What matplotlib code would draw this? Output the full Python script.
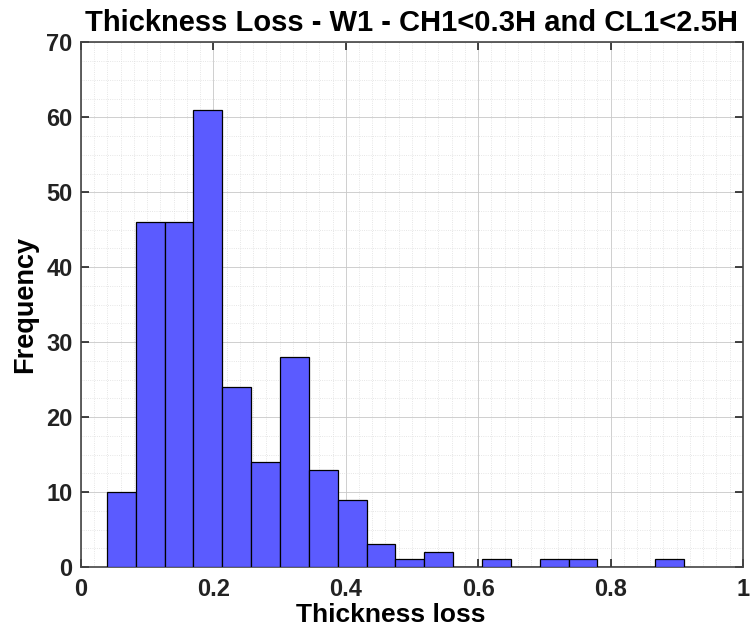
import matplotlib.pyplot as plt
import numpy as np
from matplotlib.ticker import MultipleLocator

# histogram data
bin_start = 0.039
bin_width = 0.0436
counts = [10, 46, 46, 61, 24, 14, 28, 13, 9, 3, 1, 2, 0, 1, 0, 1, 1, 0, 0, 1]
x_ticks = [0, 0.2, 0.4, 0.6, 0.8, 1]
x_tick_labels = ['0', '0.2', '0.4', '0.6', '0.8', '1']
y_ticks = [0, 10, 20, 30, 40, 50, 60, 70]

edges = bin_start + bin_width * np.arange(len(counts) + 1)
centers = (edges[:-1] + edges[1:]) / 2

plt.rcParams['font.family'] = ['Liberation Sans', 'DejaVu Sans']
plt.rcParams['font.weight'] = 'bold'

fig = plt.figure(figsize=(7.53, 6.29), dpi=100)
ax = fig.add_axes([0.1076, 0.0986, 0.879, 0.834])

ax.hist(centers, bins=edges, weights=counts, color='#5b5bff',
        edgecolor='black', linewidth=0.9, zorder=3)

ax.set_xlim(0, 1)
ax.set_ylim(0, 70)
ax.set_xticks(x_ticks)
ax.set_xticklabels(x_tick_labels)
ax.set_yticks(y_ticks)
ax.xaxis.set_minor_locator(MultipleLocator(0.02))
ax.yaxis.set_minor_locator(MultipleLocator(2.5))

ax.grid(which='major', color='#c8c8c8', linestyle='-', linewidth=0.6, zorder=0)
ax.grid(which='minor', color='#dedede', linestyle=':', linewidth=0.6, zorder=0)
ax.set_axisbelow(True)

ax.tick_params(which='major', direction='in', length=6, width=1.2,
               top=True, right=True, labelsize=17, colors='#222222')
ax.tick_params(axis='x', pad=8)
ax.tick_params(axis='y', pad=6)
ax.tick_params(which='minor', length=0)
for lab in ax.get_xticklabels() + ax.get_yticklabels():
    lab.set_fontweight('bold')
for sp in ax.spines.values():
    sp.set_color('#444444')
    sp.set_linewidth(1.2)

ax.set_xlabel('Thickness loss', fontsize=19, fontweight='bold', va='baseline')
ax.xaxis.set_label_coords(0.468, -0.105)
ax.set_ylabel('Frequency', fontsize=19.5, fontweight='bold', labelpad=6)
ax.set_title('Thickness Loss - W1 - CH1<0.3H and CL1<2.5H', fontsize=21,
             fontweight='bold', pad=8)

fig.savefig('out.png', dpi=100)
